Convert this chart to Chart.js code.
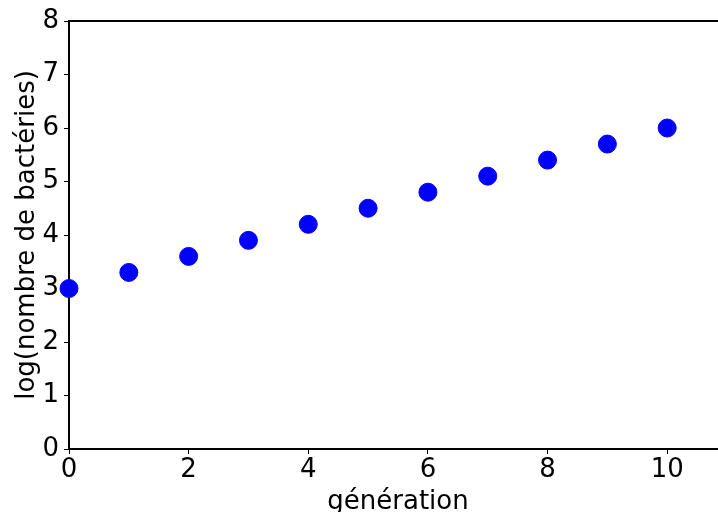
<!DOCTYPE html>
<html>
<head>
<meta charset="utf-8">
<script src="https://cdn.jsdelivr.net/npm/chart.js@4"></script>
<style>
  html, body { margin: 0; padding: 0; background: #fff; overflow: hidden; }
  #wrap { width: 718px; height: 512px; overflow: hidden; }
</style>
</head>
<body>
<div id="wrap"><canvas id="bact" width="740" height="512"></canvas></div>
<script>
// données
const generations = [0, 1, 2, 3, 4, 5, 6, 7, 8, 9, 10];
const logBacteries = [3.0, 3.3, 3.6, 3.9, 4.2, 4.5, 4.8, 5.1, 5.4, 5.7, 6.0];
const xTicks = [0, 2, 4, 6, 8, 10];
const yTicks = [0, 1, 2, 3, 4, 5, 6, 7, 8];

const points = generations.map((g, i) => ({ x: g, y: logBacteries[i] }));

// trait du haut (cadre matplotlib)
const cadreHaut = {
    id: 'cadreHaut',
    afterDraw(chart) {
        const c = chart.ctx, a = chart.chartArea;
        c.save();
        c.strokeStyle = '#000';
        c.lineWidth = 2;
        c.beginPath();
        c.moveTo(a.left - 1, a.top);
        c.lineTo(a.right, a.top);
        c.stroke();
        c.restore();
    }
};

const police = "'DejaVu Sans', sans-serif";

var ctx = document.getElementById('bact').getContext('2d');
new Chart(ctx, {
    type: 'scatter',
    data: {
        datasets: [{
            data: points,
            backgroundColor: '#0000ff',
            borderColor: '#0000ff',
            pointRadius: 9,
            pointHoverRadius: 9,
            clip: false
        }]
    },
    options: {
        responsive: false,
        animation: false,
        layout: { autoPadding: false, padding: { top: 21, right: 13, left: 0, bottom: 0 } },
        plugins: { legend: { display: false }, tooltip: { enabled: false } },
        scales: {
            x: {
                type: 'linear',
                min: 0,
                max: 11,
                afterBuildTicks: s => { s.ticks = xTicks.map(v => ({ value: v })); },
                afterFit: s => { s.height = 63; s.paddingRight = 0; s.paddingLeft = 0; },
                border: { display: true, color: '#000', width: 2 },
                grid: { drawOnChartArea: false, drawTicks: true, tickLength: 5, color: '#000', tickWidth: 1 },
                ticks: { color: '#000', font: { family: police, size: 26 }, padding: 1, maxRotation: 0 },
                title: { display: true, text: 'génération', color: '#000', font: { family: police, size: 26 }, padding: { top: 0, bottom: -6 } }
            },
            y: {
                type: 'linear',
                min: 0,
                max: 8,
                afterBuildTicks: s => { s.ticks = yTicks.map(v => ({ value: v })); },
                afterFit: s => { s.width = 69; s.paddingTop = 0; s.paddingBottom = 0; },
                border: { display: true, color: '#000', width: 2 },
                grid: { drawOnChartArea: false, drawTicks: true, tickLength: 5, color: '#000', tickWidth: 1 },
                ticks: { color: '#000', font: { family: police, size: 26 }, padding: 5 },
                title: { display: true, text: 'log(nombre de bactéries)', color: '#000', font: { family: police, size: 26 }, padding: { top: 12, bottom: 0 } }
            }
        }
    },
    plugins: [cadreHaut]
});
</script>
</body>
</html>
